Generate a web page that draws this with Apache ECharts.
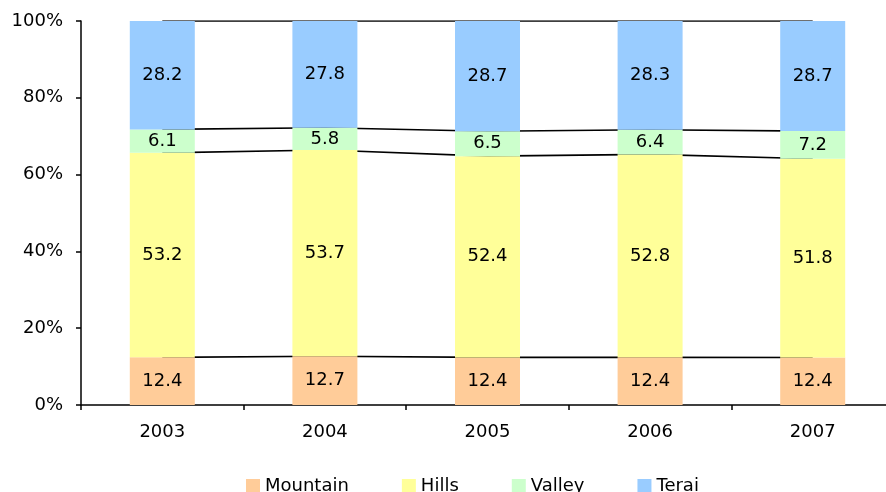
<!DOCTYPE html>
<html>
<head>
<meta charset="utf-8">
<script src="https://cdn.jsdelivr.net/npm/echarts@6/dist/echarts.min.js"></script>
<style>html,body{margin:0;padding:0;background:#fff;overflow:hidden;width:886px;height:492px}#c{width:900px;height:492px}</style>
</head>
<body>
<div id="c"></div>
<script>
const categories = ['2003', '2004', '2005', '2006', '2007'];
const mountain = [12.4, 12.7, 12.4, 12.4, 12.4];
const hills = [53.2, 53.7, 52.4, 52.8, 51.8];
const valley = [6.1, 5.8, 6.5, 6.4, 7.2];
const terai = [28.2, 27.8, 28.7, 28.3, 28.7];
const seriesNames = ['Mountain', 'Hills', 'Valley', 'Terai'];
const colors = ['#FFCC99', '#FFFF99', '#CCFFCC', '#99CCFF'];

const raw = [mountain, hills, valley, terai];
const totals = categories.map((_, i) => raw.reduce((s, a) => s + a[i], 0));
const pct = raw.map(a => a.map((v, i) => v / totals[i] * 100));
const cum = [];
pct.forEach((a, k) => cum.push(a.map((v, i) => (k ? cum[k - 1][i] : 0) + v)));

const FONT = 'DejaVu Sans';
const chart = echarts.init(document.getElementById('c'));
const series = [];
pct.forEach((a, k) => {
  series.push({
    name: seriesNames[k], type: 'bar', stack: 'total', barWidth: 65, z: 3,
    itemStyle: { color: colors[k] },
    label: {
      show: true, position: 'inside', color: '#000', fontFamily: FONT, fontSize: 18,
      formatter: p => raw[k][p.dataIndex].toFixed(1)
    },
    data: a
  });
});
cum.forEach((a) => {
  series.push({
    type: 'line', z: 1, symbol: 'none', silent: true,
    lineStyle: { color: '#000', width: 1.6 },
    data: a
  });
});

chart.setOption({
  animation: false,
  grid: { left: 81, top: 21, width: 813, height: 384 },
  legend: {
    data: seriesNames, top: 472, left: 241, itemWidth: 14, itemHeight: 14, itemGap: 53,
    icon: 'rect',
    textStyle: { color: '#000', fontFamily: FONT, fontSize: 18 }
  },
  xAxis: {
    type: 'category', data: categories, boundaryGap: true,
    axisLine: { lineStyle: { color: '#000', width: 1.5 } },
    axisTick: { show: true, length: 5, lineStyle: { color: '#000', width: 1.5 } },
    axisLabel: { color: '#000', fontFamily: FONT, fontSize: 18, margin: 18 }
  },
  yAxis: {
    type: 'value', min: 0, max: 100, interval: 20,
    axisLine: { show: true, lineStyle: { color: '#000', width: 1.5 } },
    axisTick: { show: true, length: 5, lineStyle: { color: '#000', width: 1.5 } },
    splitLine: { show: false },
    axisLabel: { color: '#000', fontFamily: FONT, fontSize: 18, margin: 18, formatter: '{value}%' }
  },
  series: series
});
</script>
</body>
</html>
